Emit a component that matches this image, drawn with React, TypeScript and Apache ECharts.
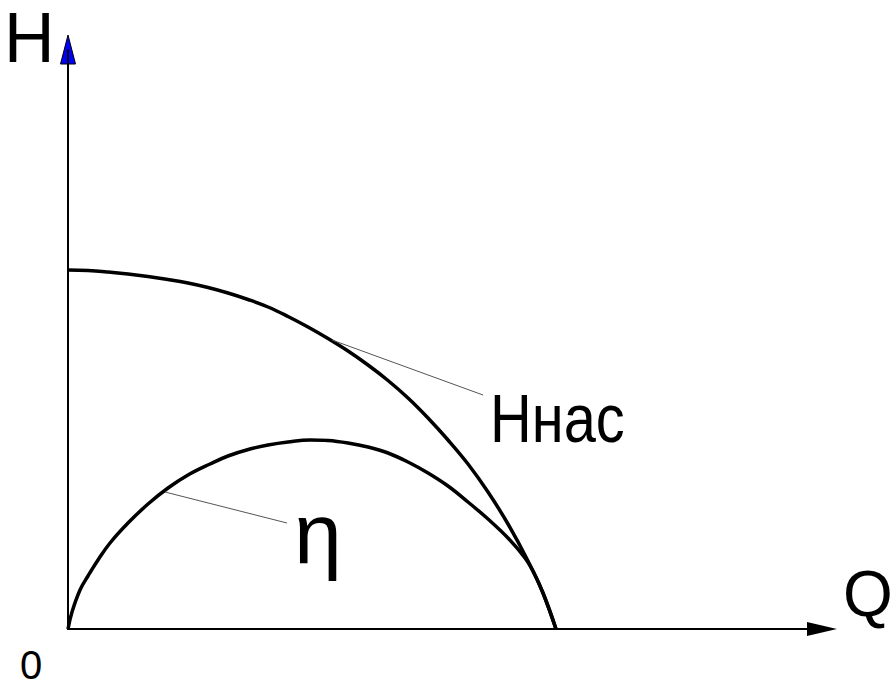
import React, { useEffect, useRef } from "react";
import * as echarts from "echarts";

// Q (horizontal) and H (vertical) values
const headQ = [0, 20, 40, 60, 80, 100, 120, 140, 160, 180, 200, 220, 240, 260, 280, 300, 320, 340, 360, 380, 400, 420, 440, 460, 475, 488];
const headH = [359, 358.5, 357, 355, 352.5, 349.5, 346, 341.5, 336, 329.5, 322, 312.5, 302, 290.5, 278, 264, 248.5, 231, 211, 189, 165, 137, 105, 68, 36, 0];

const effQ = [0, 4, 12, 20, 30, 42, 60, 80, 100, 120, 142, 160, 182, 200, 220, 242, 260, 280, 300, 320, 340, 360, 380, 400, 420, 440, 457, 466, 475, 488];
const effH = [0, 17, 39, 53, 69, 86, 106, 125, 141, 154, 165, 173, 180, 184, 187, 189, 188.5, 186, 182, 176, 167, 156, 143, 127, 110, 91, 71, 56, 36, 0];

const headLeaderQ = [264, 415];
const headLeaderH = [289, 234];
const effLeaderQ = [97, 219];
const effLeaderH = [137, 106];

const qMax = 754;
const hMax = 579;

const labels = { h: "H", q: "Q", zero: "0", head: "Hнас", eff: "η" };

const zip = (a: number[], b: number[]) => a.map((v, i) => [v, b[i]]);

export default function App() {
  const ref = useRef<HTMLDivElement>(null);
  useEffect(() => {
    if (!ref.current) return;
    const chart = echarts.init(ref.current, null, { renderer: "svg" });
    const font = "'Liberation Sans', Arial, sans-serif";
    chart.setOption({
      animation: false,
      backgroundColor: "#ffffff",
      grid: { left: 68, right: 72, top: 50, bottom: 57 },
      xAxis: {
        type: "value",
        min: 0,
        max: qMax,
        axisLine: {
          show: true,
          symbol: ["none", "triangle"],
          symbolSize: [14, 30],
          lineStyle: { color: "#000", width: 2 },
        },
        axisTick: { show: false },
        axisLabel: { show: false },
        splitLine: { show: false },
      },
      yAxis: {
        type: "value",
        min: 0,
        max: hMax,
        axisLine: { show: true, lineStyle: { color: "#000", width: 2 } },
        axisTick: { show: false },
        axisLabel: { show: false },
        splitLine: { show: false },
      },
      series: [
        {
          type: "line",
          data: zip(headQ, headH),
          smooth: 0.4,
          showSymbol: false,
          lineStyle: { color: "#000", width: 3.5, join: "round" },
        },
        {
          type: "line",
          data: zip(effQ, effH),
          smooth: 0.4,
          showSymbol: false,
          lineStyle: { color: "#000", width: 3.5, join: "round" },
        },
        {
          type: "line",
          data: zip(headLeaderQ, headLeaderH),
          showSymbol: false,
          lineStyle: { color: "#555", width: 1 },
        },
        {
          type: "line",
          data: zip(effLeaderQ, effLeaderH),
          showSymbol: false,
          lineStyle: { color: "#555", width: 1 },
        },
      ],
    });
    const top = chart.convertToPixel({ gridIndex: 0 }, [0, hMax]) as number[];
    const tx = top[0];
    const ty = top[1] - 15;
    chart.setOption({
      graphic: [
        {
          type: "polygon",
          shape: { points: [[tx, ty], [tx - 7.5, ty + 29], [tx + 7.5, ty + 29]] },
          style: { fill: "#0000ff", stroke: "#000", lineWidth: 1 },
        },
        { type: "text", x: 4, y: 38, style: { text: labels.h, font: `70px ${font}`, fill: "#000", verticalAlign: "middle", lineHeight: 70 } },
        { type: "text", x: 843, y: 594, style: { text: labels.q, font: `64px ${font}`, fill: "#000", verticalAlign: "middle", lineHeight: 64 } },
        { type: "text", x: 20, y: 665, style: { text: labels.zero, font: `40px ${font}`, fill: "#000", verticalAlign: "middle", lineHeight: 30 } },
        { type: "text", x: 490, y: 418, scaleX: 0.85, style: { text: labels.head, font: `68px ${font}`, fill: "#000", verticalAlign: "middle", lineHeight: 68 } },
        { type: "text", x: 294, y: 533, style: { text: labels.eff, font: `86px ${font}`, fill: "#000", verticalAlign: "middle", lineHeight: 86 } },
      ],
    });
    return () => chart.dispose();
  }, []);
  return (
    <div
      ref={ref}
      style={{ position: "fixed", left: 0, top: 0, width: 894, height: 686 }}
    />
  );
}
